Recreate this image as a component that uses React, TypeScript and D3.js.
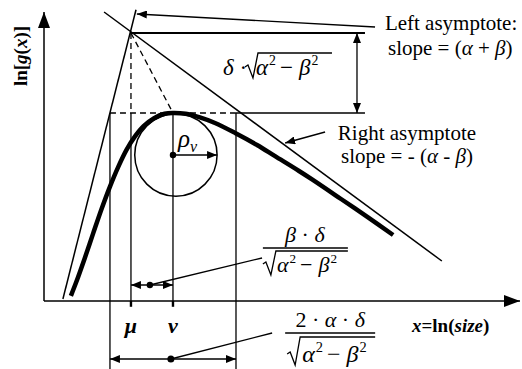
import React from 'react';
import * as d3 from 'd3';

// ---- data (x = ln(size) units relative to mu, y = ln g(x) units) ----
const curveU = [-1.43, -1.3, -1.1, -0.9, -0.7, -0.5, -0.3, -0.1, 0.1, 0.3, 0.55, 0.8, 1.0, 1.3, 1.64, 2.0, 2.48, 3.0, 3.43, 4.0, 4.31, 5.0, 5.6, 6.24];
const curveV = [0.13, 0.48, 1.07, 1.69, 2.3, 2.86, 3.36, 3.79, 4.12, 4.37, 4.57, 4.68, 4.7, 4.68, 4.59, 4.45, 4.2, 3.9, 3.62, 3.25, 3.04, 2.55, 2.12, 1.65];
const MU = 0;
const NU = 1;
const APEX_V = 6.7;
const PEAK_V = 4.7;
const HALF_SPAN = 1.5;
const leftAsymU = [-1.62, 0.12];
const leftAsymV = [0.05, 7.28];
const rightAsymU = [-0.64, 7.4];
const rightAsymV = [7.225, 1.0];
const BRACKET_END_U = 5.57;
const DOUBLE_ARROW_U = 5.38;
const circleC = [1.07, 3.65];
const RHO = 0.98;
const xDomain = [-2.07, 9.26];
const yDomain = [0, 7.225];
const VLINE_BOTTOM = -1.7;
const TICK_BOTTOM = -0.12;
const smallArrowV = 0.4;
const bigArrowV = -1.45;

const W = 522;
const H = 369;
const FONT = "'Liberation Serif', 'Times New Roman', serif";

export default function App() {
  const x = d3.scaleLinear().domain(xDomain).range([44, 520]);
  const y = d3.scaleLinear().domain(yDomain).range([301, 12]);
  const pts: [number, number][] = curveU.map((u, i) => [u, curveV[i]]);
  const line = d3.line<[number, number]>().x(d => x(d[0])).y(d => y(d[1])).curve(d3.curveCatmullRom);

  const thin = { stroke: '#000', strokeWidth: 1.3, fill: 'none' };
  const dashed = { ...thin, strokeDasharray: '6,4' };

  const radical = (x0: number, b: number, x1: number, hgt = 22) =>
    `M${x0},${b - 8} l3,-2 l5,13 L${x0 + 13},${b - hgt} H${x1}`;

  const SqrtText = ({ x0, b, fs }: { x0: number; b: number; fs: number }) => (
    <text x={x0} y={b} fontSize={fs} fontFamily={FONT}>
      <tspan fontStyle="italic">α</tspan>
      <tspan fontSize={fs * 0.6} dy={-fs * 0.42} dx={1}>2</tspan>
      <tspan dy={fs * 0.42} dx={4}>−</tspan>
      <tspan fontStyle="italic" dx={6}>β</tspan>
      <tspan fontSize={fs * 0.6} dy={-fs * 0.42} dx={1}>2</tspan>
    </text>
  );

  // annotation anchors
  const dl = [x(2.19), y(5.65)];
  const f1 = [x(3.14), y(1.325)];
  const f2 = [x(3.67), y(-0.8)];

  return (
    <div>
      <style>{`body{margin:0}`}</style>
      <svg width={W} height={H} style={{ position: 'absolute', left: 0, top: 0, background: '#fff' }} fontFamily={FONT}>
        <defs>
          <marker id="ah" viewBox="0 0 10 8" refX="10" refY="4" markerWidth="10" markerHeight="8" markerUnits="userSpaceOnUse" orient="auto-start-reverse">
            <path d="M0,0L10,4L0,8Z" fill="#000" />
          </marker>
          <marker id="axh" viewBox="0 0 16 12" refX="16" refY="6" markerWidth="16" markerHeight="12" markerUnits="userSpaceOnUse" orient="auto">
            <path d="M0,0L16,6L0,12Z" fill="#000" />
          </marker>
        </defs>

        {/* axes */}
        <line x1={x(xDomain[0])} y1={y(0)} x2={x(xDomain[0])} y2={y(yDomain[1])} {...thin} strokeWidth={1.5} markerEnd="url(#axh)" />
        <line x1={x(xDomain[0])} y1={y(0)} x2={x(xDomain[1])} y2={y(0)} {...thin} strokeWidth={1.5} markerEnd="url(#axh)" />

        {/* asymptotes */}
        <line x1={x(leftAsymU[0])} y1={y(leftAsymV[0])} x2={x(leftAsymU[1])} y2={y(leftAsymV[1])} {...thin} strokeWidth={1.5} />
        <line x1={x(rightAsymU[0])} y1={y(rightAsymV[0])} x2={x(rightAsymU[1])} y2={y(rightAsymV[1])} {...thin} strokeWidth={1.5} />

        {/* horizontal guides */}
        <line x1={x(MU)} y1={y(APEX_V)} x2={x(BRACKET_END_U)} y2={y(APEX_V)} {...thin} strokeWidth={1.8} />
        <line x1={x(NU - HALF_SPAN)} y1={y(PEAK_V)} x2={x(NU + HALF_SPAN)} y2={y(PEAK_V)} {...dashed} />
        <line x1={x(NU + HALF_SPAN)} y1={y(PEAK_V)} x2={x(BRACKET_END_U)} y2={y(PEAK_V)} {...thin} strokeWidth={1.5} />
        <line x1={x(DOUBLE_ARROW_U)} y1={y(APEX_V)} x2={x(DOUBLE_ARROW_U)} y2={y(PEAK_V)} {...thin} markerStart="url(#ah)" markerEnd="url(#ah)" />

        {/* dashed from apex */}
        <line x1={x(MU)} y1={y(APEX_V)} x2={x(MU)} y2={y(PEAK_V)} {...dashed} />
        <line x1={x(MU)} y1={y(APEX_V)} x2={x(NU)} y2={y(PEAK_V)} {...dashed} />

        {/* vertical lines */}
        <line x1={x(NU - HALF_SPAN)} y1={y(PEAK_V)} x2={x(NU - HALF_SPAN)} y2={y(VLINE_BOTTOM)} {...thin} />
        <line x1={x(NU + HALF_SPAN)} y1={y(PEAK_V)} x2={x(NU + HALF_SPAN)} y2={y(VLINE_BOTTOM)} {...thin} />
        <line x1={x(MU)} y1={y(PEAK_V)} x2={x(MU)} y2={y(TICK_BOTTOM)} {...thin} />
        <line x1={x(NU)} y1={y(PEAK_V)} x2={x(NU)} y2={y(TICK_BOTTOM)} {...thin} />
        <line x1={x(MU)} y1={y(0)} x2={x(MU)} y2={y(TICK_BOTTOM) + 1} stroke="#000" strokeWidth={2.4} />
        <line x1={x(NU)} y1={y(0)} x2={x(NU)} y2={y(TICK_BOTTOM) + 1} stroke="#000" strokeWidth={2.4} />

        {/* circle */}
        <circle cx={x(circleC[0])} cy={y(circleC[1])} r={x(RHO) - x(0)} {...thin} strokeWidth={1.5} />
        <line x1={x(NU)} y1={y(circleC[1])} x2={x(circleC[0] + RHO)} y2={y(circleC[1])} {...thin} markerEnd="url(#ah)" />
        <circle cx={x(NU)} cy={y(circleC[1])} r={3.2} fill="#000" />

        {/* curve */}
        <path d={line(pts) || ''} stroke="#000" strokeWidth={4.5} fill="none" />

        {/* brackets */}
        <line x1={x(MU)} y1={y(smallArrowV)} x2={x(NU)} y2={y(smallArrowV)} {...thin} markerStart="url(#ah)" markerEnd="url(#ah)" />
        <circle cx={x(0.45)} cy={y(smallArrowV)} r={3.2} fill="#000" />
        <line x1={x(0.45)} y1={y(smallArrowV)} x2={x(3.12)} y2={y(1.075)} {...thin} />

        <line x1={x(NU - HALF_SPAN)} y1={y(bigArrowV)} x2={x(NU + HALF_SPAN)} y2={y(bigArrowV)} {...thin} strokeWidth={1.5} markerStart="url(#ah)" markerEnd="url(#ah)" />
        <circle cx={x(0.95)} cy={y(bigArrowV)} r={3.5} fill="#000" />
        <line x1={x(0.95)} y1={y(bigArrowV)} x2={x(3.36)} y2={y(-0.8)} {...thin} />

        {/* label leader arrows */}
        <line x1={x(5.81)} y1={y(6.85)} x2={x(0.14)} y2={y(7.175)} {...thin} markerEnd="url(#ah)" />
        <line x1={x(4.62)} y1={y(4.225)} x2={x(3.67)} y2={y(3.95)} {...thin} markerEnd="url(#ah)" />

        {/* texts */}
        <text x={x(7.62)} y={y(6.775)} fontSize={21} textAnchor="middle">Left asymptote:</text>
        <text x={x(7.6)} y={y(6.15)} fontSize={21} textAnchor="middle">slope = (<tspan fontStyle="italic">α</tspan> + <tspan fontStyle="italic">β</tspan>)</text>
        <text x={x(6.57)} y={y(4.025)} fontSize={21} textAnchor="middle">Right asymptote</text>
        <text x={x(6.57)} y={y(3.45)} fontSize={21} textAnchor="middle">slope = - (<tspan fontStyle="italic">α</tspan> - <tspan fontStyle="italic">β</tspan>)</text>

        <text x={dl[0]} y={dl[1]} fontSize={23}><tspan fontStyle="italic">δ</tspan> ·</text>
        <path d={radical(dl[0] + 22, dl[1], dl[0] + 109)} {...thin} />
        <SqrtText x0={dl[0] + 33} b={dl[1]} fs={23} />

        <text x={f1[0] + 42} y={f1[1] - 6} fontSize={22} textAnchor="middle"><tspan fontStyle="italic">β</tspan> · <tspan fontStyle="italic">δ</tspan></text>
        <line x1={f1[0]} y1={f1[1]} x2={f1[0] + 85} y2={f1[1]} {...thin} />
        <path d={radical(f1[0], f1[1] + 24, f1[0] + 85, 21)} {...thin} />
        <SqrtText x0={f1[0] + 14} b={f1[1] + 24} fs={22} />

        <text x={f2[0] + 45} y={f2[1] - 6} fontSize={22} textAnchor="middle">2 · <tspan fontStyle="italic">α</tspan> · <tspan fontStyle="italic">δ</tspan></text>
        <line x1={f2[0]} y1={f2[1]} x2={f2[0] + 90} y2={f2[1]} {...thin} />
        <path d={radical(f2[0] + 2, f2[1] + 29, f2[0] + 90, 25)} {...thin} />
        <SqrtText x0={f2[0] + 17} b={f2[1] + 29} fs={24} />

        <text x={x(MU)} y={y(-0.8)} fontSize={22} fontStyle="italic" fontWeight="bold" textAnchor="middle">μ</text>
        <text x={x(NU)} y={y(-0.8)} fontSize={22} fontStyle="italic" fontWeight="bold" textAnchor="middle">ν</text>
        <text x={x(6.69)} y={y(-0.775)} fontSize={19} fontWeight="bold"><tspan fontStyle="italic">x</tspan>=ln(<tspan fontStyle="italic">size</tspan>)</text>
        <text x={x(1.12)} y={y(3.85)} fontSize={25} fontStyle="italic">ρ<tspan fontSize={16} dy={5}>v</tspan></text>
        <text transform={`translate(${x(-2.476)},${y(6.125)}) rotate(-90)`} fontSize={19} fontWeight="bold" textAnchor="middle">ln[<tspan fontStyle="italic">g</tspan>(<tspan fontStyle="italic">x</tspan>)]</text>
      </svg>
    </div>
  );
}
